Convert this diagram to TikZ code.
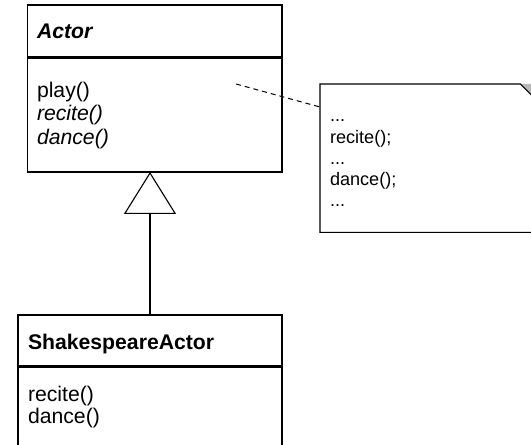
\documentclass[tikz,border=0pt]{standalone}
\usepackage{fontspec}
\setmainfont{Liberation Sans}
\usetikzlibrary{arrows.meta,calc}
\begin{document}
\begin{tikzpicture}[x=1bp,y=-1bp,
  umlbox/.style={draw=black,line width=1.1bp,anchor=north west,inner sep=0pt,outer sep=0pt},
  label/.style={anchor=base west,inner sep=0pt,outer sep=0pt,font=\fontsize{21.2bp}{23bp}\selectfont},
  notetext/.style={anchor=base west,inner sep=0pt,outer sep=0pt,font=\fontsize{18.1bp}{21.5bp}\selectfont},
  inherit/.style={line width=1.1bp,-{Triangle[open,width=52bp,length=42bp,line width=1.1bp]}},
  link/.style={dashed,line width=1bp,dash pattern=on 5bp off 4bp}]
\clip (0,0) rectangle (531,445);
\fill[white] (0,0) rectangle (531,445);

% class Actor
\node[umlbox,minimum width=254.5bp,minimum height=52bp] (actorHead) at (27.5,5) {};
\node[umlbox,minimum width=254.5bp,minimum height=113.5bp] (actorBody) at (27.5,58.5) {};
\node[label,font=\fontsize{21.2bp}{23bp}\selectfont\bfseries\itshape] (actorName) at (37,39) {Actor};
\node[label] (actorPlay) at (37,97.5) {play()};
\node[label,font=\fontsize{21.2bp}{23bp}\selectfont\itshape] (actorRecite) at (37,121) {recite()};
\node[label,font=\fontsize{21.2bp}{23bp}\selectfont\itshape] (actorDance) at (37,144.5) {dance()};

% class ShakespeareActor
\node[umlbox,minimum width=264bp,minimum height=51bp] (saHead) at (18,315) {};
\node[umlbox,minimum width=264bp,minimum height=100bp] (saBody) at (18,367) {};
\node[label,font=\fontsize{21.2bp}{23bp}\selectfont\bfseries] (saName) at (28,349.5) {ShakespeareActor};
\node[label] (saRecite) at (28,401) {recite()};
\node[label] (saDance) at (28,423.5) {dance()};

% generalization
\coordinate (saTop) at (150,315);
\coordinate (actorBottom) at (150,172);
\draw[inherit] (saTop) -- (actorBottom);

% note with folded corner
\node[anchor=north west,inner sep=0pt,minimum width=214bp,minimum height=148bp] (note) at (320,84) {};
\fill[gray!55] ($(note.north east)+(-14,0)$) -- (note.north east) -- ($(note.north east)+(0,14)$) -- cycle;
\draw[line width=1.1bp,line join=miter]
  (note.north west) -- ($(note.north east)+(-14,0)$) -- ($(note.north east)+(0,14)$)
  -- (note.south east) -- (note.south west) -- cycle;
\node[notetext] (n1) at (330,122) {...};
\node[notetext] (n2) at (330,143.5) {recite();};
\node[notetext] (n3) at (330,165) {...};
\node[notetext] (n4) at (330,186) {dance();};
\node[notetext] (n5) at (330,207) {...};

% note anchor
\coordinate (playRef) at (236,84);
\coordinate (noteAttach) at (320,107);
\draw[link] (playRef) -- (noteAttach);
\end{tikzpicture}
\end{document}
